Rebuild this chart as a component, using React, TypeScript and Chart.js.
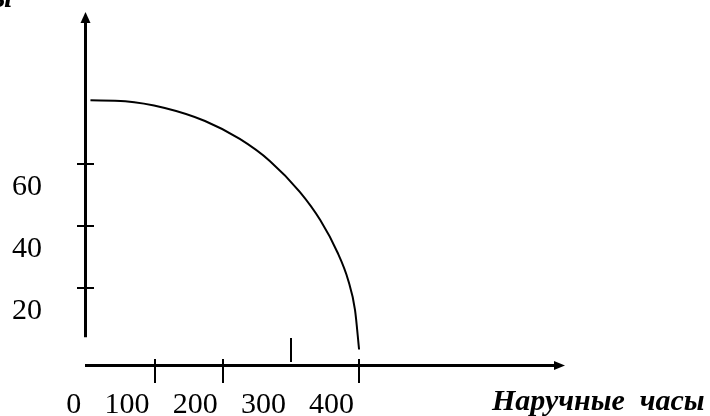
import React, { useEffect, useRef } from "react";
import { Chart, registerables } from "chart.js";

Chart.register(...registerables);

// Curve: x = wrist watches, y = wall clocks
const curveX = [6, 57, 115, 174, 225, 269, 313, 343, 368, 384, 394, 400];
const curveY = [80.5, 80.2, 78, 73.8, 68, 60.9, 50.9, 41.8, 31.5, 22.4, 12.8, 0];

const xTicks = [0, 100, 200, 300, 400];
const xTickMarks = [100, 200, 400];
const xRaisedTick = [300];
const yTicks = [20, 40, 60];

const xAxisTitle = "Наручные  часы";
const yAxisTitle = "Настенные часы";

const X_MIN = -2;
const X_MAX = 702;
const Y_MIN = -5;
const Y_MAX = 109;
const Y_AXIS_BOTTOM = 4;

const SERIF = '"Liberation Serif", "Times New Roman", serif';

const axesPlugin = {
  id: "handAxes",
  afterDraw(chart: any) {
    const ctx = chart.ctx as CanvasRenderingContext2D;
    const xs = chart.scales.x;
    const ys = chart.scales.y;
    const x0 = xs.getPixelForValue(X_MIN);
    const xEnd = xs.getPixelForValue(X_MAX);
    const yBase = ys.getPixelForValue(Y_MIN);
    const yTop = ys.getPixelForValue(Y_MAX);
    const yAxisBottom = ys.getPixelForValue(Y_AXIS_BOTTOM);

    ctx.save();
    ctx.strokeStyle = "#000";
    ctx.fillStyle = "#000";
    ctx.lineCap = "butt";

    // Y axis
    ctx.lineWidth = 3;
    ctx.beginPath();
    ctx.moveTo(x0 + 0.5, yAxisBottom);
    ctx.lineTo(x0 + 0.5, yTop + 10);
    ctx.stroke();
    ctx.beginPath();
    ctx.moveTo(x0 + 0.5, yTop);
    ctx.lineTo(x0 - 4.5, yTop + 11);
    ctx.lineTo(x0 + 5.5, yTop + 11);
    ctx.closePath();
    ctx.fill();

    // X axis
    ctx.beginPath();
    ctx.moveTo(x0, yBase + 0.5);
    ctx.lineTo(xEnd - 9, yBase + 0.5);
    ctx.stroke();
    ctx.beginPath();
    ctx.moveTo(xEnd, yBase + 0.5);
    ctx.lineTo(xEnd - 11, yBase - 4);
    ctx.lineTo(xEnd - 11, yBase + 5);
    ctx.closePath();
    ctx.fill();

    // tick marks
    ctx.lineWidth = 2;
    xTickMarks.forEach((v) => {
      const p = Math.round(xs.getPixelForValue(v));
      ctx.beginPath();
      ctx.moveTo(p, yBase - 6);
      ctx.lineTo(p, yBase + 18);
      ctx.stroke();
    });
    xRaisedTick.forEach((v) => {
      const p = Math.round(xs.getPixelForValue(v));
      ctx.beginPath();
      ctx.moveTo(p, yBase - 27);
      ctx.lineTo(p, yBase - 3);
      ctx.stroke();
    });
    yTicks.forEach((v) => {
      const p = Math.round(ys.getPixelForValue(v));
      ctx.beginPath();
      ctx.moveTo(x0 - 8, p);
      ctx.lineTo(x0 + 9, p);
      ctx.stroke();
    });

    // tick labels
    ctx.font = `30px ${SERIF}`;
    ctx.textBaseline = "alphabetic";
    ctx.textAlign = "right";
    xTicks.forEach((v) => {
      const p = xs.getPixelForValue(v);
      ctx.fillText(String(v), p - 5, yBase + 48);
    });
    yTicks.forEach((v) => {
      const p = ys.getPixelForValue(v);
      ctx.fillText(String(v), 42, p + 31);
    });

    // axis titles
    ctx.font = `bold italic 30px ${SERIF}`;
    ctx.textAlign = "left";
    ctx.fillText(xAxisTitle, 492, yBase + 45);
    ctx.textAlign = "right";
    ctx.fillText(yAxisTitle, 12, 7);

    ctx.restore();
  },
};

export default function App() {
  const canvasRef = useRef<HTMLCanvasElement | null>(null);

  useEffect(() => {
    if (!canvasRef.current) return;
    const chart = new Chart(canvasRef.current, {
      type: "scatter",
      data: {
        datasets: [
          {
            data: curveX.map((x, i) => ({ x, y: curveY[i] })),
            showLine: true,
            borderColor: "#000",
            borderWidth: 2,
            pointRadius: 0,
            cubicInterpolationMode: "monotone",
            clip: false,
          } as any,
        ],
      },
      options: {
        animation: false,
        responsive: true,
        maintainAspectRatio: false,
        layout: { padding: { left: 85, right: 145, top: 12, bottom: 51 } },
        plugins: { legend: { display: false }, tooltip: { enabled: false }, title: { display: false } },
        scales: {
          x: { type: "linear", min: X_MIN, max: X_MAX, display: false },
          y: { type: "linear", min: Y_MIN, max: Y_MAX, display: false },
        },
      },
      plugins: [axesPlugin],
    });
    return () => chart.destroy();
  }, []);

  return (
    <div style={{ position: "absolute", left: 0, top: 0, width: 710, height: 416, background: "#fff" }}>
      <canvas ref={canvasRef} />
    </div>
  );
}
